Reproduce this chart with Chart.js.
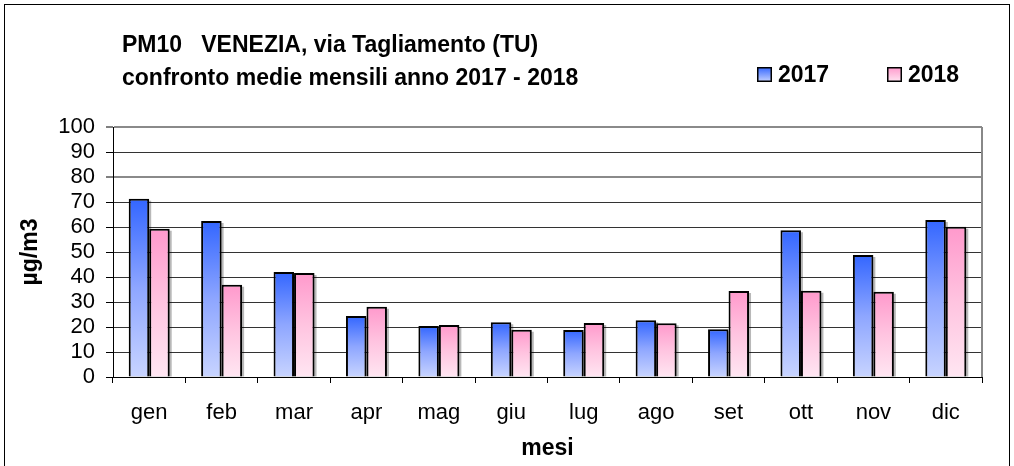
<!DOCTYPE html>
<html>
<head>
<meta charset="utf-8">
<script src="https://cdn.jsdelivr.net/npm/chart.js@4/dist/chart.umd.min.js"></script>
<style>
html,body{margin:0;padding:0;background:#fff;}
#c{display:block;}
</style>
</head>
<body>
<canvas id="c" width="1014" height="466"></canvas>
<script>
const months = ['gen','feb','mar','apr','mag','giu','lug','ago','set','ott','nov','dic'];
const values2017 = [71.3, 62.4, 42.0, 24.4, 20.4, 21.9, 18.8, 22.7, 19.1, 58.7, 48.8, 62.8];
const values2018 = [59.3, 36.9, 41.6, 28.1, 20.8, 18.9, 21.6, 21.5, 34.4, 34.5, 34.1, 60.1];
const seriesLabels = ['2017', '2018'];
const titleLines = ['PM10   VENEZIA, via Tagliamento (TU)', 'confronto medie mensili anno 2017 - 2018'];
const yAxisTitle = 'µg/m3';
const xAxisTitle = 'mesi';
const yMin = 0, yMax = 100, yStep = 10;

const FONT = '"Liberation Sans", Arial, sans-serif';
const blueStops = ['#3366ff', '#8ea6ff', '#c8d4ff'];
const pinkStops = ['#ff99cc', '#ffc4e0', '#ffe6f2'];

function gradientFill(stops) {
  return function(ctx) {
    const chart = ctx.chart;
    const y = chart.scales && chart.scales.y;
    if (ctx.type !== 'data' || !y || !isFinite(y.top)) return stops[0];
    const top = y.getPixelForValue(ctx.raw);
    const bot = y.getPixelForValue(0);
    if (!isFinite(top) || !isFinite(bot) || top === bot) return stops[0];
    const g = chart.ctx.createLinearGradient(0, top, 0, bot);
    g.addColorStop(0, stops[0]);
    g.addColorStop(0.5, stops[1]);
    g.addColorStop(1, stops[2]);
    return g;
  };
}

const decorPlugin = {
  id: 'decor',
  beforeDatasetsDraw(chart) {
    const ctx = chart.ctx;
    ctx.save();
    ctx.fillStyle = 'rgba(0,0,0,0.28)';
    chart.data.datasets.forEach((ds, i) => {
      const meta = chart.getDatasetMeta(i);
      meta.data.forEach(el => {
        const w = el.width;
        const left = el.x - w / 2;
        ctx.fillRect(left + 2, el.y + 2, w, el.base - el.y - 2);
      });
    });
    ctx.restore();
  },
  afterDraw(chart) {
    const ctx = chart.ctx;
    const a = chart.chartArea;
    ctx.save();
    ctx.strokeStyle = '#888';
    ctx.lineWidth = 2;
    ctx.beginPath();
    ctx.moveTo(a.right, a.top);
    ctx.lineTo(a.right, a.bottom);
    ctx.stroke();
    ctx.strokeStyle = '#000';
    ctx.lineWidth = 1;
    ctx.strokeRect(4.5, 4.5, 1005, 480);
    ctx.fillStyle = '#000';
    ctx.font = 'bold 23px ' + FONT;
    ctx.textAlign = 'left';
    ctx.textBaseline = 'alphabetic';
    ctx.fillText(titleLines[0], 122, 52);
    ctx.fillText(titleLines[1], 122, 85);
    const legendX = [757, 887];
    chart.data.datasets.forEach((ds, i) => {
      const x = legendX[i];
      const stops = i === 0 ? blueStops : pinkStops;
      const g = ctx.createLinearGradient(0, 67, 0, 82);
      g.addColorStop(0, stops[0]);
      g.addColorStop(1, stops[2]);
      ctx.fillStyle = g;
      ctx.fillRect(x, 67, 15, 15);
      ctx.strokeStyle = '#000';
      ctx.lineWidth = 1.5;
      ctx.strokeRect(x + 0.75, 67.75, 13.5, 13.5);
      ctx.fillStyle = '#000';
      ctx.fillText(ds.label, x + 21, 82);
    });
    ctx.restore();
  }
};

new Chart(document.getElementById('c'), {
  type: 'bar',
  data: {
    labels: months,
    datasets: [
      { label: seriesLabels[0], data: values2017, backgroundColor: gradientFill(blueStops), borderColor: '#000', borderWidth: 2, borderSkipped: 'bottom' },
      { label: seriesLabels[1], data: values2018, backgroundColor: gradientFill(pinkStops), borderColor: '#000', borderWidth: 2, borderSkipped: 'bottom' }
    ]
  },
  options: {
    responsive: false,
    animation: false,
    devicePixelRatio: 1,
    layout: { padding: { left: 0, right: 32, top: 127, bottom: 0 } },
    datasets: { bar: { categoryPercentage: 0.566, barPercentage: 1.0 } },
    plugins: { legend: { display: false }, title: { display: false }, tooltip: { enabled: false } },
    scales: {
      x: {
        afterFit(scale) { scale.height = 89; },
        grid: { offset: true, drawOnChartArea: false, tickLength: 6, tickColor: '#000', tickWidth: 1 },
        border: { color: '#000', width: 1 },
        ticks: { color: '#000', font: { family: FONT, size: 22 }, padding: 17, maxRotation: 0, autoSkip: false },
        title: { display: true, text: xAxisTitle, color: '#000', font: { family: FONT, size: 23, weight: 'bold' }, padding: { top: 0, bottom: 4 } }
      },
      y: {
        min: yMin, max: yMax,
        afterFit(scale) { scale.width = 113; },
        ticks: { stepSize: yStep, autoSkip: false, color: '#000', font: { family: FONT, size: 22 }, padding: 11 },
        grid: {
          color: c => (c.tick && (c.tick.value === 100 || c.tick.value === 80)) ? '#8a8a8a' : '#333',
          lineWidth: c => (c.tick && (c.tick.value === 100 || c.tick.value === 80)) ? 2 : 1,
          tickLength: 7, tickColor: '#000', tickWidth: 1
        },
        border: { color: '#000', width: 1 },
        title: { display: true, text: yAxisTitle, color: '#000', font: { family: FONT, size: 23, weight: 'bold' }, padding: { top: 17, bottom: 0 } }
      }
    }
  },
  plugins: [decorPlugin]
});
</script>
</body>
</html>
